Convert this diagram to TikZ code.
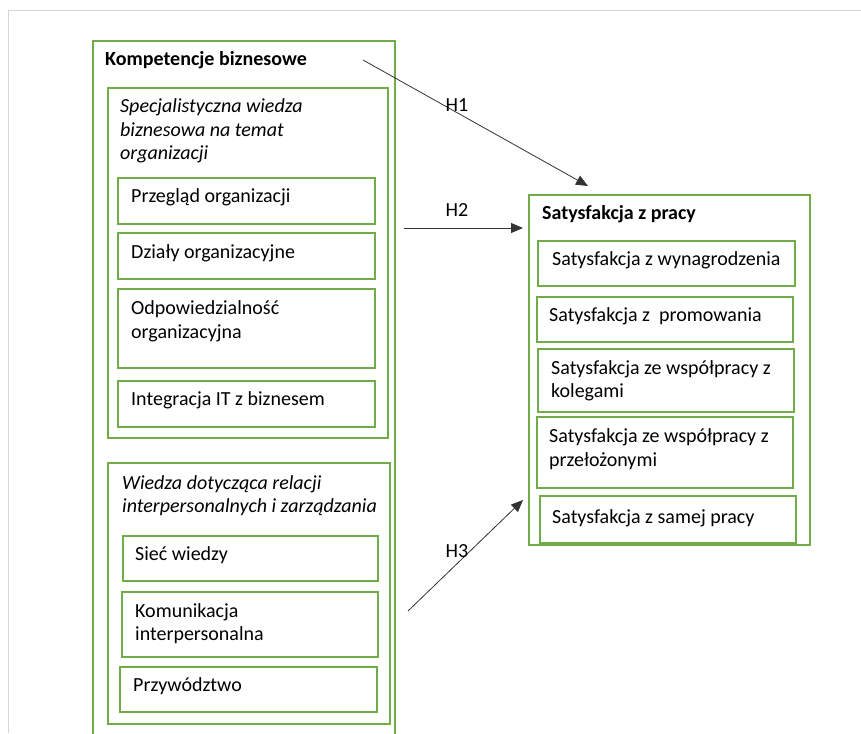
\documentclass[tikz,border=0pt]{standalone}
\usepackage{fontspec}
\setmainfont{Carlito}
\usetikzlibrary{arrows.meta}
\definecolor{leaf}{HTML}{70AD47}
\definecolor{sheet}{HTML}{D6D6D6}
\definecolor{ink}{HTML}{333333}
\tikzset{
  box/.style={draw=leaf, line width=1.6pt, inner sep=0pt, anchor=north west},
  lbl/.style={anchor=west, inner sep=0pt, align=left, text=black,
              font=\fontsize{20}{23.5}\selectfont},
  head/.style={lbl, font=\fontsize{20}{23.5}\selectfont\bfseries},
  sub/.style={lbl, font=\fontsize{20}{23.5}\selectfont\itshape},
  hyp/.style={draw=ink, line width=0.8pt, -{Triangle[length=12pt,width=10pt]}},
  hlabel/.style={inner sep=0pt, font=\fontsize{20}{23.5}\selectfont}
}
\begin{document}
\begin{tikzpicture}[x=1pt,y=-1pt]
\useasboundingbox (0,0) rectangle (861,733);
% page edge
\draw[sheet, line width=1pt] (8,733) -- (8,11) -- (861,11);

% left group: business competences
\node[box, minimum width=302pt, minimum height=720pt] (komp) at (92,40) {};
\node[head] (kompt) at (105,60) {Kompetencje biznesowe};

\node[box, minimum width=280pt, minimum height=350pt] (spec) at (107,87) {};
\node[sub] (spect) at (120,131) {Specjalistyczna wiedza\\biznesowa na temat\\organizacji};

\node[box, minimum width=257pt, minimum height=46pt] (przeg) at (117,177) {};
\node[lbl] (przegt) at (131,197) {Przegląd organizacji};
\node[box, minimum width=257pt, minimum height=46pt] (dzialy) at (117,232) {};
\node[lbl] (dzialyt) at (131,253) {Działy organizacyjne};
\node[box, minimum width=257pt, minimum height=79pt] (odp) at (117,288) {};
\node[lbl] (odpt) at (131,321.5) {Odpowiedzialność\\organizacyjna};
\node[box, minimum width=257pt, minimum height=46pt] (integ) at (117,380) {};
\node[lbl] (integt) at (131,400) {Integracja IT z biznesem};

\node[box, minimum width=282pt, minimum height=261pt] (rel) at (107,462) {};
\node[sub] (relt) at (122,495.5) {Wiedza dotycząca relacji\\interpersonalnych i zarządzania};

\node[box, minimum width=255pt, minimum height=45pt] (siec) at (122,535) {};
\node[lbl] (siect) at (135,555) {Sieć wiedzy};
\node[box, minimum width=256pt, minimum height=65pt] (komun) at (121,591) {};
\node[lbl] (komunt) at (135,623.5) {Komunikacja\\interpersonalna};
\node[box, minimum width=257pt, minimum height=45pt] (przyw) at (119,666) {};
\node[lbl] (przywt) at (133,686) {Przywództwo};

% right group: job satisfaction
\node[box, minimum width=281pt, minimum height=350pt] (sat) at (528,194) {};
\node[head] (satt) at (542,214) {Satysfakcja z pracy};

\node[box, minimum width=257pt, minimum height=45pt] (wyn) at (537,240) {};
\node[lbl] (wynt) at (552,260) {Satysfakcja z wynagrodzenia};
\node[box, minimum width=256pt, minimum height=45pt] (prom) at (536,296) {};
\node[lbl] (promt) at (549,316) {Satysfakcja z\ \ promowania};
\node[box, minimum width=256pt, minimum height=63pt] (kol) at (537,348) {};
\node[lbl] (kolt) at (551,381) {Satysfakcja ze współpracy z\\kolegami};
\node[box, minimum width=256pt, minimum height=71pt] (przel) at (536,416) {};
\node[lbl] (przelt) at (549,449) {Satysfakcja ze współpracy z\\przełożonymi};
\node[box, minimum width=256pt, minimum height=47pt] (samej) at (539,495) {};
\node[lbl] (samejt) at (552,518) {Satysfakcja z samej pracy};

% hypotheses
\coordinate (h1a) at (363,60);
\coordinate (h1b) at (588,186);
\coordinate (h2a) at (404,228);
\coordinate (h2b) at (523,228);
\coordinate (h3a) at (408,611);
\coordinate (h3b) at (523,500);
\draw[hyp] (h1a) -- (h1b);
\draw[hyp] (h2a) -- (h2b);
\draw[hyp] (h3a) -- (h3b);
\node[hlabel] (h1) at (457,105) {H1};
\node[hlabel] (h2) at (457,210) {H2};
\node[hlabel] (h3) at (457,551) {H3};
\end{tikzpicture}
\end{document}
